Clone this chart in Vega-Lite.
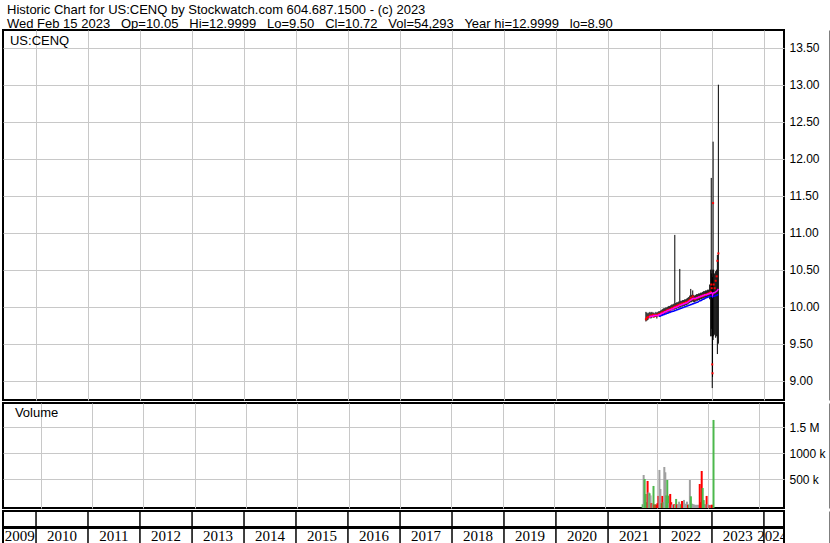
{
  "$schema": "https://vega.github.io/schema/vega-lite/v6.json",
  "padding": {"left": 1, "top": 4, "right": 0, "bottom": 0},
  "background": "white",
  "title": {
    "text": ["Historic Chart for US:CENQ by Stockwatch.com 604.687.1500 - (c) 2023", "Wed Feb 15 2023\u00a0\u00a0 Op=10.05\u00a0\u00a0 Hi=12.9999\u00a0\u00a0 Lo=9.50\u00a0\u00a0 Cl=10.72\u00a0\u00a0 Vol=54,293\u00a0\u00a0 Year hi=12.9999\u00a0\u00a0 lo=8.90"],
    "anchor": "start", "frame": "group", "fontSize": 13, "lineHeight": 14, "offset": -2, "dx": 4, "fontWeight": "normal", "font": "Liberation Sans", "color": "black"
  },
  "spacing": 1,
  "datasets": {
    "labels": [
      {"panel": "price", "text": "US:CENQ", "d": "2009-07-02", "y": 13.537},
      {"panel": "volume", "text": "Volume", "d": "2009-07-02", "y": 1698000}
    ],
    "prices": [
      {"d":"2021-09-24","h":9.93,"l":9.80,"c":9.83},
      {"d":"2021-10-01","h":9.92,"l":9.81,"c":9.85},
      {"d":"2021-10-08","h":9.91,"l":9.82,"c":9.86},
      {"d":"2021-10-15","h":9.92,"l":9.84,"c":9.86,"m1":9.86},
      {"d":"2021-10-22","h":9.93,"l":9.85,"c":9.88,"m1":9.86},
      {"d":"2021-10-29","h":9.92,"l":9.84,"c":9.87,"m1":9.87},
      {"d":"2021-11-05","h":9.93,"l":9.85,"c":9.88,"m1":9.87},
      {"d":"2021-11-12","h":9.92,"l":9.86,"c":9.89,"m1":9.87},
      {"d":"2021-11-19","h":9.92,"l":9.85,"c":9.87,"m1":9.88},
      {"d":"2021-11-26","h":9.91,"l":9.86,"c":9.88,"m1":9.88},
      {"d":"2021-12-03","h":9.93,"l":9.86,"c":9.89,"m1":9.88},
      {"d":"2021-12-10","h":9.92,"l":9.84,"c":9.88,"m1":9.88},
      {"d":"2021-12-17","h":9.93,"l":9.87,"c":9.89,"m1":9.88},
      {"d":"2021-12-24","h":9.94,"l":9.87,"c":9.90,"m1":9.89,"m2":9.87},
      {"d":"2021-12-31","h":9.94,"l":9.86,"c":9.90,"m1":9.89,"m2":9.87},
      {"d":"2022-01-07","h":9.95,"l":9.88,"c":9.91,"m1":9.90,"m2":9.88},
      {"d":"2022-01-14","h":9.96,"l":9.89,"c":9.92,"m1":9.91,"m2":9.88},
      {"d":"2022-01-21","h":9.97,"l":9.89,"c":9.92,"m1":9.91,"m2":9.89},
      {"d":"2022-01-28","h":9.98,"l":9.90,"c":9.93,"m1":9.92,"m2":9.89},
      {"d":"2022-02-04","h":9.98,"l":9.90,"c":9.93,"m1":9.93,"m2":9.90},
      {"d":"2022-02-11","h":9.99,"l":9.91,"c":9.94,"m1":9.93,"m2":9.90},
      {"d":"2022-02-18","h":9.99,"l":9.92,"c":9.95,"m1":9.94,"m2":9.91},
      {"d":"2022-02-25","h":10.00,"l":9.92,"c":9.95,"m1":9.95,"m2":9.91},
      {"d":"2022-03-04","h":10.01,"l":9.93,"c":9.96,"m1":9.95,"m2":9.92},
      {"d":"2022-03-11","h":10.01,"l":9.93,"c":9.96,"m1":9.96,"m2":9.92},
      {"d":"2022-03-18","h":10.02,"l":9.94,"c":9.97,"m1":9.96,"m2":9.93},
      {"d":"2022-03-25","h":10.03,"l":9.95,"c":9.98,"m1":9.97,"m2":9.93},
      {"d":"2022-04-01","h":10.03,"l":9.95,"c":9.98,"m1":9.97,"m2":9.94},
      {"d":"2022-04-08","h":10.04,"l":9.96,"c":9.99,"m1":9.98,"m2":9.94},
      {"d":"2022-04-15","h":10.97,"l":9.96,"c":10.00,"m1":9.99,"m2":9.95},
      {"d":"2022-04-22","h":10.05,"l":9.97,"c":10.00,"m1":9.99,"m2":9.95},
      {"d":"2022-04-29","h":10.06,"l":9.97,"c":10.01,"m1":10.00,"m2":9.96},
      {"d":"2022-05-06","h":10.06,"l":9.98,"c":10.02,"m1":10.00,"m2":9.96},
      {"d":"2022-05-13","h":10.07,"l":9.98,"c":10.02,"m1":10.01,"m2":9.97},
      {"d":"2022-05-20","h":10.51,"l":9.99,"c":10.03,"m1":10.02,"m2":9.97},
      {"d":"2022-05-27","h":10.08,"l":9.99,"c":10.03,"m1":10.02,"m2":9.98},
      {"d":"2022-06-03","h":10.08,"l":10.00,"c":10.04,"m1":10.03,"m2":9.98},
      {"d":"2022-06-10","h":10.09,"l":10.00,"c":10.04,"m1":10.03,"m2":9.99},
      {"d":"2022-06-17","h":10.09,"l":10.01,"c":10.05,"m1":10.04,"m2":9.99},
      {"d":"2022-06-24","h":10.10,"l":10.01,"c":10.05,"m1":10.04,"m2":10.00},
      {"d":"2022-07-01","h":10.10,"l":10.02,"c":10.06,"m1":10.05,"m2":10.00},
      {"d":"2022-07-08","h":10.11,"l":10.02,"c":10.06,"m1":10.05,"m2":10.01},
      {"d":"2022-07-15","h":10.12,"l":10.03,"c":10.07,"m1":10.06,"m2":10.01},
      {"d":"2022-07-22","h":10.13,"l":10.04,"c":10.08,"m1":10.07,"m2":10.02},
      {"d":"2022-07-29","h":10.15,"l":10.05,"c":10.09,"m1":10.08,"m2":10.02},
      {"d":"2022-08-05","h":10.24,"l":10.06,"c":10.12,"m1":10.09,"m2":10.03},
      {"d":"2022-08-12","h":10.16,"l":10.06,"c":10.10,"m1":10.10,"m2":10.03},
      {"d":"2022-08-19","h":10.22,"l":10.07,"c":10.14,"m1":10.11,"m2":10.04},
      {"d":"2022-08-26","h":10.16,"l":10.06,"c":10.11,"m1":10.11,"m2":10.04},
      {"d":"2022-09-02","h":10.15,"l":10.06,"c":10.10,"m1":10.11,"m2":10.05},
      {"d":"2022-09-09","h":10.16,"l":10.07,"c":10.11,"m1":10.11,"m2":10.05},
      {"d":"2022-09-16","h":10.17,"l":10.08,"c":10.12,"m1":10.12,"m2":10.06},
      {"d":"2022-09-23","h":10.17,"l":10.08,"c":10.12,"m1":10.12,"m2":10.06},
      {"d":"2022-09-30","h":10.18,"l":10.09,"c":10.13,"m1":10.13,"m2":10.07},
      {"d":"2022-10-07","h":10.18,"l":10.09,"c":10.13,"m1":10.13,"m2":10.08},
      {"d":"2022-10-14","h":10.19,"l":10.10,"c":10.14,"m1":10.14,"m2":10.08},
      {"d":"2022-10-21","h":10.19,"l":10.10,"c":10.14,"m1":10.14,"m2":10.09},
      {"d":"2022-10-28","h":10.20,"l":10.11,"c":10.15,"m1":10.15,"m2":10.10},
      {"d":"2022-11-04","h":10.21,"l":10.11,"c":10.15,"m1":10.15,"m2":10.10},
      {"d":"2022-11-11","h":10.21,"l":10.12,"c":10.16,"m1":10.16,"m2":10.11},
      {"d":"2022-11-18","h":10.22,"l":10.12,"c":10.16,"m1":10.16,"m2":10.12},
      {"d":"2022-11-25","h":10.22,"l":10.13,"c":10.17,"m1":10.16,"m2":10.12},
      {"d":"2022-12-02","h":10.23,"l":10.13,"c":10.17,"m1":10.17,"m2":10.13},
      {"d":"2022-12-09","h":10.23,"l":10.14,"c":10.18,"m1":10.17,"m2":10.13},
      {"d":"2022-12-16","h":10.30,"l":10.10,"c":10.18,"m1":10.18,"m2":10.14},
      {"d":"2022-12-23","h":10.50,"l":9.60,"c":10.20,"m1":10.18,"m2":10.14},
      {"d":"2022-12-27","h":11.74,"l":9.60,"c":10.30,"m1":10.19,"m2":10.14},
      {"d":"2022-12-30","h":10.45,"l":9.70,"c":10.25,"m1":10.19,"m2":10.14},
      {"d":"2023-01-03","h":10.50,"l":8.90,"c":9.22,"m1":10.18,"m2":10.14},
      {"d":"2023-01-05","h":10.40,"l":9.05,"c":9.10,"m1":10.16,"m2":10.13},
      {"d":"2023-01-09","h":12.23,"l":9.55,"c":11.40,"m1":10.18,"m2":10.14},
      {"d":"2023-01-13","h":10.50,"l":9.60,"c":10.30,"m1":10.19,"m2":10.14},
      {"d":"2023-01-20","h":10.45,"l":9.62,"c":10.25,"m1":10.19,"m2":10.14},
      {"d":"2023-01-27","h":10.48,"l":9.58,"c":10.35,"m1":10.20,"m2":10.15},
      {"d":"2023-02-03","h":10.50,"l":9.60,"c":10.41,"m1":10.21,"m2":10.15},
      {"d":"2023-02-08","h":10.70,"l":9.36,"c":10.62,"m1":10.22,"m2":10.16},
      {"d":"2023-02-15","h":12.9999,"l":9.50,"c":10.72,"m1":10.24,"m2":10.16}
    ],
    "volume": [
      {"d":"2021-09-24","v":20000,"dir":"up"},
      {"d":"2021-10-01","v":583000,"dir":"flat"},
      {"d":"2021-10-08","v":506000,"dir":"up"},
      {"d":"2021-10-15","v":218000,"dir":"up"},
      {"d":"2021-10-22","v":60000,"dir":"up"},
      {"d":"2021-10-29","v":468000,"dir":"down"},
      {"d":"2021-11-05","v":250000,"dir":"flat"},
      {"d":"2021-11-12","v":231000,"dir":"up"},
      {"d":"2021-11-19","v":190000,"dir":"flat"},
      {"d":"2021-11-26","v":40000,"dir":"down"},
      {"d":"2021-12-03","v":30000,"dir":"flat"},
      {"d":"2021-12-10","v":372000,"dir":"up"},
      {"d":"2021-12-17","v":15000,"dir":"down"},
      {"d":"2021-12-24","v":20000,"dir":"up"},
      {"d":"2021-12-31","v":10000,"dir":"down"},
      {"d":"2022-01-07","v":40000,"dir":"down"},
      {"d":"2022-01-14","v":180000,"dir":"down"},
      {"d":"2022-01-21","v":680000,"dir":"flat"},
      {"d":"2022-01-28","v":314000,"dir":"flat"},
      {"d":"2022-02-04","v":40000,"dir":"up"},
      {"d":"2022-02-11","v":180000,"dir":"down"},
      {"d":"2022-02-18","v":60000,"dir":"up"},
      {"d":"2022-02-25","v":737000,"dir":"flat"},
      {"d":"2022-03-04","v":635000,"dir":"flat"},
      {"d":"2022-03-11","v":190000,"dir":"up"},
      {"d":"2022-03-18","v":487000,"dir":"up"},
      {"d":"2022-03-25","v":186000,"dir":"up"},
      {"d":"2022-04-01","v":40000,"dir":"flat"},
      {"d":"2022-04-08","v":218000,"dir":"down"},
      {"d":"2022-04-15","v":60000,"dir":"down"},
      {"d":"2022-04-22","v":15000,"dir":"flat"},
      {"d":"2022-04-29","v":10000,"dir":"flat"},
      {"d":"2022-05-06","v":20000,"dir":"down"},
      {"d":"2022-05-13","v":10000,"dir":"flat"},
      {"d":"2022-05-20","v":122000,"dir":"up"},
      {"d":"2022-05-27","v":15000,"dir":"down"},
      {"d":"2022-06-03","v":20000,"dir":"flat"},
      {"d":"2022-06-10","v":70000,"dir":"flat"},
      {"d":"2022-06-17","v":30000,"dir":"flat"},
      {"d":"2022-06-24","v":15000,"dir":"up"},
      {"d":"2022-07-01","v":83000,"dir":"down"},
      {"d":"2022-07-08","v":40000,"dir":"down"},
      {"d":"2022-07-15","v":103000,"dir":"flat"},
      {"d":"2022-07-22","v":15000,"dir":"flat"},
      {"d":"2022-07-29","v":30000,"dir":"flat"},
      {"d":"2022-08-05","v":70000,"dir":"flat"},
      {"d":"2022-08-12","v":10000,"dir":"down"},
      {"d":"2022-08-19","v":15000,"dir":"up"},
      {"d":"2022-08-26","v":487000,"dir":"flat"},
      {"d":"2022-09-02","v":173000,"dir":"up"},
      {"d":"2022-09-09","v":30000,"dir":"up"},
      {"d":"2022-09-16","v":20000,"dir":"flat"},
      {"d":"2022-09-23","v":15000,"dir":"flat"},
      {"d":"2022-09-30","v":10000,"dir":"flat"},
      {"d":"2022-10-07","v":5000,"dir":"flat"},
      {"d":"2022-10-14","v":10000,"dir":"flat"},
      {"d":"2022-10-21","v":5000,"dir":"flat"},
      {"d":"2022-10-28","v":10000,"dir":"flat"},
      {"d":"2022-11-04","v":410000,"dir":"down"},
      {"d":"2022-11-11","v":60000,"dir":"down"},
      {"d":"2022-11-18","v":660000,"dir":"down"},
      {"d":"2022-11-25","v":333000,"dir":"up"},
      {"d":"2022-12-02","v":100000,"dir":"up"},
      {"d":"2022-12-09","v":20000,"dir":"up"},
      {"d":"2022-12-16","v":10000,"dir":"flat"},
      {"d":"2022-12-23","v":180000,"dir":"down"},
      {"d":"2022-12-30","v":20000,"dir":"flat"},
      {"d":"2023-01-06","v":10000,"dir":"flat"},
      {"d":"2023-01-13","v":5000,"dir":"down"},
      {"d":"2023-01-20","v":5000,"dir":"flat"},
      {"d":"2023-01-27","v":10000,"dir":"down"},
      {"d":"2023-02-03","v":10000,"dir":"down"},
      {"d":"2023-02-10","v":1641000,"dir":"up"}
    ],
    "years": [
      {"year":"2009","lab":"2009-09-08"},
      {"year":"2010","start":"2010-01-01","lab":"2010-07-02"},
      {"year":"2011","start":"2011-01-01","lab":"2011-07-02"},
      {"year":"2012","start":"2012-01-01","lab":"2012-07-02"},
      {"year":"2013","start":"2013-01-01","lab":"2013-07-02"},
      {"year":"2014","start":"2014-01-01","lab":"2014-07-02"},
      {"year":"2015","start":"2015-01-01","lab":"2015-07-02"},
      {"year":"2016","start":"2016-01-01","lab":"2016-07-02"},
      {"year":"2017","start":"2017-01-01","lab":"2017-07-02"},
      {"year":"2018","start":"2018-01-01","lab":"2018-07-02"},
      {"year":"2019","start":"2019-01-01","lab":"2019-07-02"},
      {"year":"2020","start":"2020-01-01","lab":"2020-07-02"},
      {"year":"2021","start":"2021-01-01","lab":"2021-07-02"},
      {"year":"2022","start":"2022-01-01","lab":"2022-07-02"},
      {"year":"2023","start":"2023-01-01","lab":"2023-07-02"},
      {"year":"2024","start":"2024-01-01","lab":"2024-02-28"}
    ]
  },
  "vconcat": [
    {
      "width": 781, "height": 370,
      "layer": [
        {
          "data": {"name": "prices"},
          "mark": {"type": "rule", "color": "black", "strokeWidth": 1},
          "encoding": {
            "x": {"field": "d", "type": "temporal", "scale": {"type": "utc", "domain": [{"year":2009,"month":5,"date":14,"utc":true},{"year":2024,"month":5,"date":21,"utc":true}]},
                  "axis": {"grid": true, "gridColor": "#c8c8c8", "gridWidth": 1, "labels": false, "ticks": false, "domain": false, "title": null, "tickCount": {"interval": "year", "step": 1}}},
            "y": {"field": "l", "type": "quantitative", "scale": {"domain": [8.739, 13.739], "nice": false, "zero": false},
                  "axis": {"orient": "right", "values": [9,9.25,9.5,9.75,10,10.25,10.5,10.75,11,11.25,11.5,11.75,12,12.25,12.5,12.75,13,13.25,13.5], "format": ".2f", "grid": true, "gridColor": "#c8c8c8", "gridWidth": 1, "ticks": false, "tickSize": 0, "domain": true, "domainColor": "black", "domainWidth": 2, "offset": 46, "labelPadding": -41, "labelAlign": "left", "labelBaseline": "middle", "labelFontSize": 12, "labelColor": "black", "title": null}},
            "y2": {"field": "h"}
          }
        },
        {
          "data": {"name": "prices"},
          "mark": {"type": "point", "shape": "square", "filled": true, "color": "#ff0000", "size": 4, "opacity": 1},
          "encoding": {
            "x": {"field": "d", "type": "temporal"},
            "y": {"field": "c", "type": "quantitative"}
          }
        },
        {
          "data": {"name": "prices"},
          "mark": {"type": "line", "color": "#0000ff", "strokeWidth": 1.5},
          "encoding": {
            "x": {"field": "d", "type": "temporal"},
            "y": {"field": "m2", "type": "quantitative"}
          }
        },
        {
          "data": {"name": "prices"},
          "mark": {"type": "line", "color": "#ff00ff", "strokeWidth": 1.5},
          "encoding": {
            "x": {"field": "d", "type": "temporal"},
            "y": {"field": "m1", "type": "quantitative"}
          }
        },
        {
          "data": {"name": "labels"},
          "transform": [{"filter": "datum.panel === 'price'"}],
          "mark": {"type": "text", "align": "left", "baseline": "alphabetic", "fontSize": 13, "font": "Liberation Sans", "color": "black"},
          "encoding": {
            "x": {"field": "d", "type": "temporal"},
            "y": {"field": "y", "type": "quantitative"},
            "text": {"field": "text", "type": "nominal"}
          }
        }
      ]
    },
    {
      "spacing": 0,
      "vconcat": [
        {
          "width": 781, "height": 105,
          "layer": [
            {
              "data": {"name": "volume"},
              "mark": {"type": "bar", "size": 2},
              "encoding": {
                "x": {"field": "d", "type": "temporal", "scale": {"type": "utc", "domain": [{"year":2009,"month":5,"date":14,"utc":true},{"year":2024,"month":5,"date":21,"utc":true}]},
                      "axis": {"grid": true, "gridColor": "#c8c8c8", "gridWidth": 1, "labels": false, "ticks": false, "domain": false, "title": null, "tickCount": {"interval": "year", "step": 1}}},
                "y": {"field": "v", "type": "quantitative", "stack": null, "scale": {"domain": [-52000, 1967300], "nice": false, "zero": false},
                      "axis": {"orient": "right", "values": [500000, 1000000, 1500000], "labelExpr": "datum.value >= 1500000 ? format(datum.value / 1000000, '.1f') + ' M' : format(datum.value / 1000, 'd') + ' k'", "grid": true, "gridColor": "#c8c8c8", "gridWidth": 1, "ticks": false, "tickSize": 0, "domain": true, "domainColor": "black", "domainWidth": 2, "offset": 46, "labelPadding": -41, "labelAlign": "left", "labelBaseline": "middle", "labelFontSize": 12, "labelColor": "black", "title": null}},
                "y2": {"datum": -52000},
                "color": {"field": "dir", "type": "nominal", "scale": {"domain": ["up", "down", "flat"], "range": ["#4cb84c", "#ff0000", "#a0a0a0"]}, "legend": null}
              }
            },
            {
              "data": {"name": "labels"},
              "transform": [{"filter": "datum.panel === 'volume'"}],
              "mark": {"type": "text", "align": "left", "baseline": "alphabetic", "fontSize": 13, "font": "Liberation Sans", "color": "black"},
              "encoding": {
                "x": {"field": "d", "type": "temporal"},
                "y": {"field": "y", "type": "quantitative"},
                "text": {"field": "text", "type": "nominal"}
              }
            }
          ]
        },
        {
          "width": 781, "height": 33,
          "data": {"name": "years"},
          "layer": [
            {
              "mark": {"type": "rule", "color": "black", "strokeWidth": 1.5},
              "encoding": {
                "x": {"field": "start", "type": "temporal", "scale": {"type": "utc", "domain": [{"year":2009,"month":5,"date":14,"utc":true},{"year":2024,"month":5,"date":21,"utc":true}]}, "axis": null},
                "y": {"datum": 0, "type": "quantitative", "scale": {"domain": [0, 2], "nice": false, "zero": false},
                      "axis": {"orient": "right", "labels": false, "ticks": false, "tickSize": 0, "grid": false, "domain": true, "domainColor": "black", "domainWidth": 2, "offset": 46, "title": null}},
                "y2": {"datum": 2}
              }
            },
            {
              "mark": {"type": "rule", "color": "black", "strokeWidth": 2},
              "encoding": {"y": {"datum": 1, "type": "quantitative"}}
            },
            {
              "mark": {"type": "text", "clip": true, "font": "Liberation Sans Narrow", "fontSize": 15, "baseline": "middle", "align": "center", "color": "black"},
              "encoding": {
                "x": {"field": "lab", "type": "temporal"},
                "y": {"datum": 0.5, "type": "quantitative"},
                "text": {"field": "year", "type": "nominal"}
              }
            }
          ]
        }
      ]
    }
  ],
  "config": {
    "view": {"stroke": "black", "strokeWidth": 2},
    "font": "Liberation Sans",
    "axis": {"labelFont": "Liberation Sans", "labelColor": "black", "labelFontSize": 12},
    "title": {"font": "Liberation Sans", "fontWeight": "normal", "color": "black", "fontSize": 13}
  }
}
